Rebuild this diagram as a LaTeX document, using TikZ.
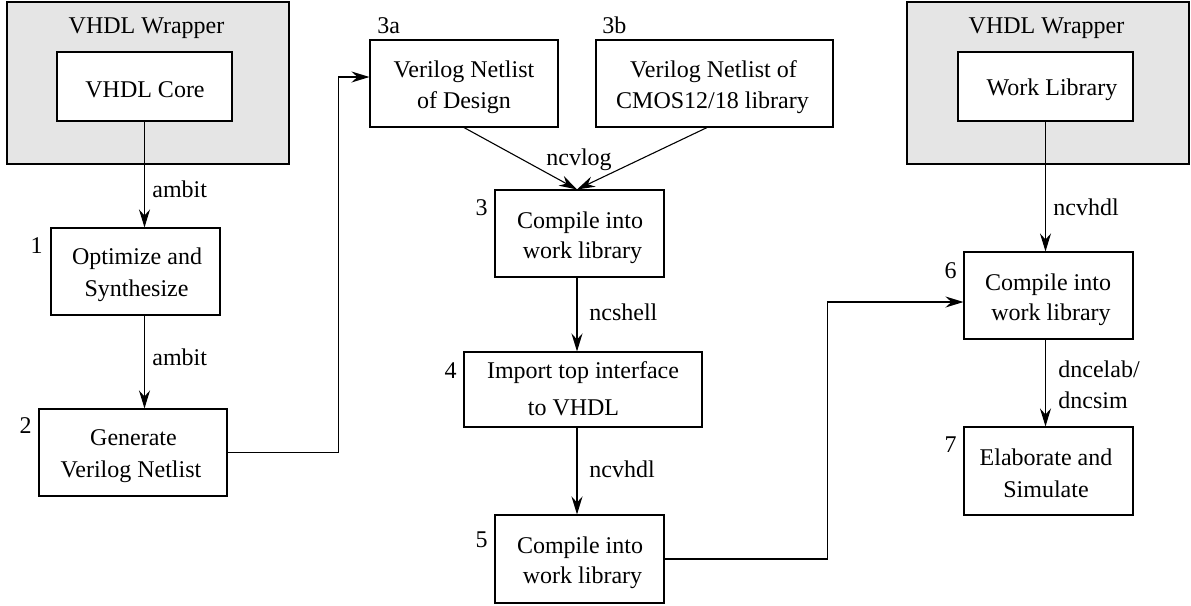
\documentclass[tikz,border=0pt]{standalone}
\usepackage{fontspec}
\setmainfont{Liberation Serif}
\usetikzlibrary{arrows.meta,calc}
\definecolor{wrapgray}{gray}{0.9}
\begin{document}
\begin{tikzpicture}[x=0.5pt,y=-0.5pt,
  every node/.style={font=\fontsize{12}{15}\selectfont},
  blk/.style 2 args={draw=black, line width=0.55pt, rectangle, inner sep=0pt,
    minimum width=#1*0.5pt, minimum height=#2*0.5pt},
  wrapbox/.style={fill=wrapgray},
  stepbox/.style={fill=white},
  txt/.style={inner sep=0pt, anchor=base},
  lbl/.style={inner sep=0pt, anchor=base west},
  num/.style={inner sep=0pt, anchor=base east},
  flow/.style={line width=0.55pt, -{Stealth[length=9pt,width=5.5pt,inset=3pt]}}]
\useasboundingbox (0,0) rectangle (1191,606);

% wrappers with their inner blocks
\node[blk={282}{162}, wrapbox] (wrapL) at (148,83) {};
\node[blk={175}{69}, stepbox] (core) at (144.5,86.5) {};
\node[blk={282}{162}, wrapbox] (wrapR) at (1048,83) {};
\node[blk={175}{69}, stepbox] (wlib) at (1045.5,86.5) {};

% process steps
\node[blk={169}{87}, stepbox] (b1) at (135.5,271.5) {};
\node[blk={188}{87}, stepbox] (b2) at (133,452.5) {};
\node[blk={188}{87}, stepbox] (a3) at (464,83.5) {};
\node[blk={237}{87}, stepbox] (bb) at (714.5,83.5) {};
\node[blk={169}{87}, stepbox] (b3) at (579.5,233.5) {};
\node[blk={238}{75}, stepbox] (b4) at (583,389.5) {};
\node[blk={169}{88}, stepbox] (b5) at (579.5,559) {};
\node[blk={169}{87}, stepbox] (b6) at (1048.5,295.5) {};
\node[blk={169}{88}, stepbox] (b7) at (1048.5,471) {};

% texts inside the blocks
\node[txt] (tWL) at (146.5,33) {VHDL Wrapper};
\node[txt] (tCore) at (145,97) {VHDL Core};
\node[txt] (tWR) at (1046.5,33) {VHDL Wrapper};
\node[txt] (tWlib) at (1052,95) {Work Library};
\node[txt] (t1a) at (137,264) {Optimize and};
\node[txt] (t1b) at (136.5,296) {Synthesize};
\node[txt] (t2a) at (133.5,445) {Generate};
\node[txt] (t2b) at (131,477) {Verilog Netlist};
\node[txt] (t3aa) at (464,77) {Verilog Netlist};
\node[txt] (t3ab) at (464,108) {of Design};
\node[txt] (t3ba) at (713.5,77) {Verilog Netlist of};
\node[txt] (t3bb) at (712.5,108) {CMOS12/18 library};
\node[txt] (t3a) at (580,228) {Compile into};
\node[txt] (t3b) at (582.5,258) {work library};
\node[txt] (t4a) at (583,378) {Import top interface};
\node[txt] (t4b) at (573.5,415) {to VHDL};
\node[txt] (t5a) at (580,553) {Compile into};
\node[txt] (t5b) at (582.5,583) {work library};
\node[txt] (t6a) at (1048,290) {Compile into};
\node[txt] (t6b) at (1051,320) {work library};
\node[txt] (t7a) at (1046,465) {Elaborate and};
\node[txt] (t7b) at (1046,497) {Simulate};

% step numbers
\node[num] (n1) at (43,253) {1};
\node[num] (n2) at (32,433) {2};
\node[num] (n3) at (488,215) {3};
\node[num] (n4) at (457,378) {4};
\node[num] (n5) at (488,547) {5};
\node[num] (n6) at (957,278) {6};
\node[num] (n7) at (957,452) {7};
\node[lbl] (n3a) at (377,33) {3a};
\node[lbl] (n3b) at (602,33) {3b};

% entry points
\coordinate (a3in) at ($(a3.west)+(0,-6.5)$);
\coordinate (b3in) at ($(b3.north)+(-2.5,0)$);
\coordinate (b6in) at ($(b6.west)+(0,6.5)$);

% left column
\draw[flow] (core.south) -- (core.south |- b1.north);
\draw[flow] (core.south |- b1.south) -- (core.south |- b2.north);
\draw[flow] (b2.east) -| ($(a3in)+(-31,0)$) -- (a3in);

% middle column
\draw[flow] (a3.south) -- (b3in);
\draw[flow] ($(bb.south)+(-7.5,0)$) -- (b3in);
\draw[flow] (b3in |- b3.south) -- (b3in |- b4.north);
\draw[flow] (b3in |- b4.south) -- (b3in |- b5.north);
\draw[flow] (b5.east) -| ($(b6in)+(-136,0)$) -- (b6in);

% right column
\draw[flow] (wlib.south) -- (wlib.south |- b6.north);
\draw[flow] (wlib.south |- b6.south) -- (wlib.south |- b7.north);

% tool names on the connectors
\node[lbl] (lAmb1) at (152,197) {ambit};
\node[lbl] (lAmb2) at (152,365) {ambit};
\node[lbl] (lVlog) at (546,165) {ncvlog};
\node[lbl] (lShell) at (589,320) {ncshell};
\node[lbl] (lVhdl1) at (589,477) {ncvhdl};
\node[lbl] (lVhdl2) at (1053,215) {ncvhdl};
\node[lbl] (lElab) at (1058,377) {dncelab/};
\node[lbl] (lSim) at (1058,408) {dncsim};
\end{tikzpicture}
\end{document}
